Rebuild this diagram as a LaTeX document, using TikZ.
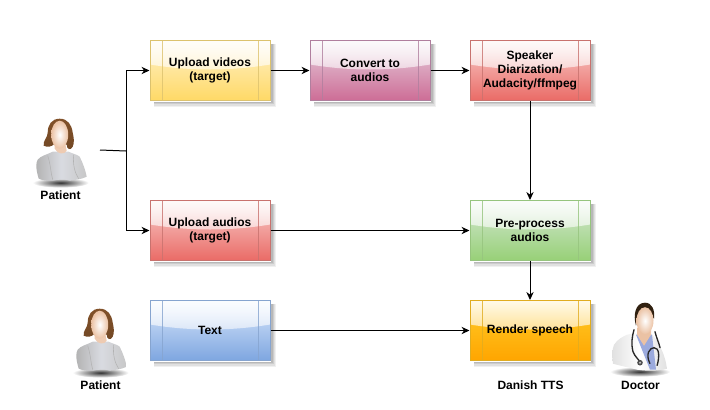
\documentclass[tikz,border=0pt]{standalone}
\usepackage{fontspec}
\setmainfont{Liberation Sans}
\usetikzlibrary{arrows.meta,fadings}
\definecolor{yA}{HTML}{FFF2CC}\definecolor{yB}{HTML}{FFD966}\definecolor{yC}{HTML}{DCC26E}
\definecolor{pA}{HTML}{E6D0DE}\definecolor{pB}{HTML}{CD6D96}\definecolor{pC}{HTML}{B07F9E}
\definecolor{rA}{HTML}{F8CECC}\definecolor{rB}{HTML}{EA6B66}\definecolor{rC}{HTML}{C8726E}
\definecolor{gA}{HTML}{D5E8D4}\definecolor{gB}{HTML}{97D077}\definecolor{gC}{HTML}{96C47E}
\definecolor{bA}{HTML}{DAE8FC}\definecolor{bB}{HTML}{7EA6E0}\definecolor{bC}{HTML}{86A4CF}
\definecolor{oA}{HTML}{FFCD28}\definecolor{oB}{HTML}{FFA500}\definecolor{oC}{HTML}{E0AC20}
\definecolor{hairc}{HTML}{8F5A2E}\definecolor{skinc}{HTML}{EBC2A4}\definecolor{shirt}{HTML}{D9DBE1}
\tikzfading[name=glossfade,top color=transparent!10,bottom color=transparent!80]
\tikzset{
  x=0.75pt,y=-0.75pt,
  lbl/.style={font=\fontsize{9}{10.5}\selectfont\bfseries,text=black,inner sep=0pt,align=center},
  conn/.style={draw=black,line width=0.75pt},
  arr/.style={conn,-{Stealth[length=6pt,width=5.5pt]}},
  procbox/.style n args={3}{
    minimum width=90pt,minimum height=45pt,inner sep=0pt,align=center,
    font=\fontsize{9}{10.5}\selectfont\bfseries,
    draw=#3,line width=0.75pt,top color=#1,bottom color=#2,
    path picture={
      \fill[white,path fading=glossfade]
        (path picture bounding box.north west) -- (path picture bounding box.north east)
        -- ([yshift=-18pt]path picture bounding box.north east)
        .. controls ([xshift=-30pt,yshift=-23pt]path picture bounding box.north east)
        and ([xshift=30pt,yshift=-23pt]path picture bounding box.north west)
        .. ([yshift=-18pt]path picture bounding box.north west) -- cycle;
      \draw[#3,line width=0.6pt,opacity=.8]
        ([xshift=9pt]path picture bounding box.north west)--([xshift=9pt]path picture bounding box.south west)
        ([xshift=-9pt]path picture bounding box.north east)--([xshift=-9pt]path picture bounding box.south east);
    }},
  skin/.style={inner color=white,outer color=#1},
  pics/patient/.style={code={
    \shade[inner color=black!80,outer color=white] (0,0) ellipse (28 and 5);
    \shade[left color=black!30,right color=black!22,middle color=shirt]
      (-22,-4) .. controls (-25,-14) and (-25,-20) .. (-23,-23)
      .. controls (-20,-27) and (-14,-28) .. (-8,-31)
      -- (8,-31) .. controls (12,-29) and (17,-28) .. (19,-26)
      .. controls (22,-20) and (25,-12) .. (26,-6)
      .. controls (20,-3) and (14,-3) .. (9,-2)
      .. controls (4,-4) and (-4,-3) .. (-8,-2)
      .. controls (-13,-2) and (-18,-2) .. (-22,-4) -- cycle;
    \draw[black!30,line width=0.4pt] (-13,-27) .. controls (-10,-18) and (-10,-10) .. (-8,-3)
      (13,-28) .. controls (12,-18) and (14,-10) .. (18,-4);
    \shade[top color=hairc!90!black,bottom color=hairc!80!black]
      (-1,-64) .. controls (-9,-64) and (-13,-58) .. (-13,-50)
      .. controls (-13,-45) and (-18,-42) .. (-17,-37)
      .. controls (-13,-35) and (-9,-36) .. (-6,-39) -- (6,-38)
      .. controls (6,-33) and (10,-32) .. (12,-36)
      .. controls (14,-40) and (13,-46) .. (12,-50)
      .. controls (11,-58) and (7,-64) .. (-1,-64) -- cycle;
    \fill[skinc!85!white] (-6,-42) -- (-6,-34) .. controls (-3,-28) and (4,-28) .. (6,-32) -- (4,-42) -- cycle;
    \shade[skin=skinc] (-1,-48) ellipse (8.5 and 14);
  }},
  pics/doctor/.style={code={
    \shade[inner color=black!80,outer color=white] (0,0) ellipse (30 and 5);
    \shade[left color=black!12,right color=black!12,middle color=white]
      (-27,-8) .. controls (-28,-16) and (-28,-22) .. (-26,-27)
      .. controls (-22,-33) and (-17,-35) .. (-13,-37)
      -- (-3,-39) -- (12,-37) .. controls (15,-34) and (19,-30) .. (20,-25)
      .. controls (24,-18) and (26,-10) .. (27,-3)
      .. controls (15,0) and (5,-1) .. (-3,-2)
      .. controls (-10,-4) and (-20,-6) .. (-27,-8) -- cycle;
    \fill[cyan!35!blue!40!white] (-4,-37) -- (12,-37) -- (16,-2) -- (10,-2) -- cycle;
    \fill[skinc] (-3,-44) -- (-3,-37) -- (4,-26) -- (11,-37) -- (11,-44) -- cycle;
    \draw[black!85,line width=1pt,line cap=round]
      (-6,-42) .. controls (-8,-35) and (-9,-28) .. (-7,-20) .. controls (-5,-15) and (-2,-13) .. (0,-10)
      (15,-40) .. controls (17,-32) and (19,-29) .. (20,-24);
    \draw[black!85,line width=1pt] (10,-8) .. controls (5,-18) and (10,-24) .. (14,-24) .. controls (19,-24) and (20,-16) .. (17,-6);
    \fill[black!70] (0,-9) circle (2.8);
    \fill[black!25] (0,-9) circle (1.2);
    \fill[black!75!brown] (-4,-46) .. controls (-7,-56) and (-5,-69) .. (5,-69)
      .. controls (12,-69) and (15,-62) .. (14,-53) -- (5,-62) -- (-2,-55) -- cycle;
    \shade[skin=skinc] (5,-51) ellipse (8.5 and 13.5);
  }}
}
\begin{document}
\begin{tikzpicture}
\useasboundingbox (0,0) rectangle (710,410);
\node[procbox={yA}{yB}{yC}] (u1) at (210,70.5) {Upload videos\\(target)};
\node[procbox={pA}{pB}{pC}] (c1) at (370,70.5) {Convert to\\audios};
\node[procbox={rA}{rB}{rC}] (s1) at (530,70.5) {Speaker\\Diarization/\\Audacity/ffmpeg};
\node[procbox={rA}{rB}{rC}] (u2) at (210,230.5) {Upload audios\\(target)};
\node[procbox={gA}{gB}{gC}] (p1) at (530,230.5) {Pre-process\\audios};
\node[procbox={bA}{bB}{bC}] (t1) at (210,330.5) {Text};
\node[procbox={oA}{oB}{oC}] (r1) at (530,330.5) {Render speech};

\foreach \n in {u1,c1,s1,u2,p1,t1,r1}
  \foreach \r/\k in {4.2/6,3.4/12,2.6/20,1.8/28}{
    \fill[black!\k] ([xshift=3pt,yshift=-0.4pt]\n.south west) rectangle ([xshift=\r pt,yshift=-\r pt]\n.south east);
    \fill[black!\k] ([xshift=0.4pt,yshift=-3pt]\n.north east) rectangle ([xshift=\r pt,yshift=-\r pt]\n.south east);
  }

\pic at (60.7,182.7) {patient};
\pic at (100.7,372.7) {patient};
\pic at (640,371.7) {doctor};
\node[lbl] (pl1) at (60.5,195) {Patient};
\node[lbl] (pl2) at (100.5,385) {Patient};
\node[lbl] (dl) at (640.5,385) {Doctor};
\node[lbl] (tts) at (530.5,385) {Danish TTS};

\coordinate (pout) at (100,150);
\coordinate (junc) at (126,151);
\draw[conn] (pout) -- (junc);
\draw[arr] (junc) |- (u1.west);
\draw[arr] (junc) |- (u2.west);
\draw[arr] (u1) -- (c1);
\draw[arr] (c1) -- (s1);
\draw[arr] (s1) -- (p1);
\draw[arr] (u2) -- (p1);
\draw[arr] (p1) -- (r1);
\draw[arr] (t1) -- (r1);
\end{tikzpicture}
\end{document}
